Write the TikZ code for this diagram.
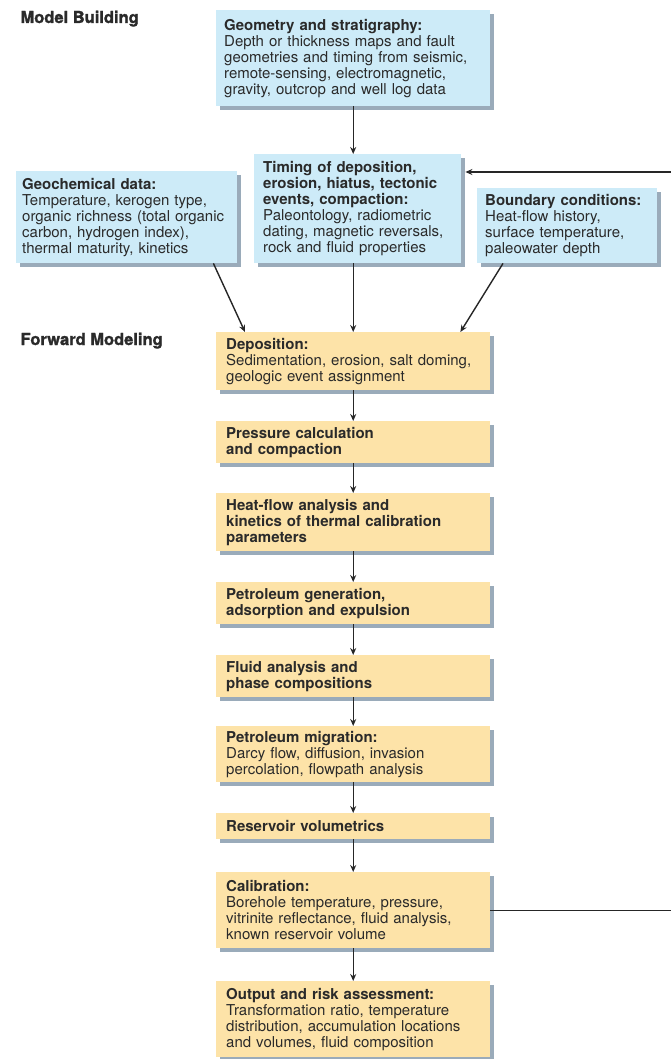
\documentclass[tikz,border=0pt]{standalone}
\usepackage{fontspec}
\setmainfont{TeX Gyre Heros}
\newfontfamily\headfam[BoldFeatures={FakeBold=1.5}]{TeX Gyre Heros}
\usetikzlibrary{arrows.meta,shadows}
\definecolor{skyfill}{HTML}{CDEBF8}
\definecolor{sandfill}{HTML}{FDE3A8}
\definecolor{shadowc}{HTML}{9AABBA}
\definecolor{inkc}{HTML}{2A2A2A}
\newcommand{\bodyfont}{\fontsize{15}{16}\selectfont}
\newcommand{\headfont}{\headfam\fontsize{16.5}{18}\selectfont\bfseries}
\tikzset{
  card/.style={anchor=north west, inner ysep=0pt, align=left, text=inkc, font=\bodyfont,
    drop shadow={shadow xshift=4pt, shadow yshift=-4pt, fill=shadowc, opacity=1}},
  blue card/.style={card, fill=skyfill, text width=#1},
  sand card/.style={card, fill=sandfill, inner xsep=10pt, text width=254pt},
  flow/.style={-{Stealth[length=7pt,width=6pt]}, line width=1.4pt, draw=black!85},
  stage/.style={anchor=base west, font=\headfont, text=inkc},
}
\begin{document}
\begin{tikzpicture}[x=1pt,y=-1pt]
    \useasboundingbox (0,0) rectangle (671,1059);
    \node[stage] (mb) at (17,23) {Model Building};
    \node[stage] (fm) at (17,345) {Forward Modeling};
    % model building
    \node[blue card=258pt, inner xsep=8pt, minimum height=96pt] (geo) at (216,10)
      {\textbf{Geometry and stratigraphy:}\\Depth or thickness maps and fault\\geometries and timing from seismic,\\remote-sensing, electromagnetic,\\gravity, outcrop and well log data};
    \node[blue card=189pt, inner xsep=9pt, minimum height=109pt] (timing) at (254,154)
      {\textbf{Timing of deposition,}\\\textbf{erosion, hiatus, tectonic}\\\textbf{events, compaction:}\\Paleontology, radiometric\\dating, magnetic reversals,\\rock and fluid properties};
    \node[blue card=209pt, inner xsep=6pt, minimum height=92pt] (geochem) at (16,171)
      {\textbf{Geochemical data:}\\Temperature, kerogen type,\\organic richness (total organic\\carbon, hydrogen index),\\thermal maturity, kinetics};
    \node[blue card=164pt, inner xsep=8pt, minimum height=75pt] (bound) at (477,188)
      {\textbf{Boundary conditions:}\\Heat-flow history,\\surface temperature,\\paleowater depth};
    % forward modeling
    \node[sand card, minimum height=58pt] (dep) at (216,332)
      {\textbf{Deposition:}\\Sedimentation, erosion, salt doming,\\geologic event assignment};
    \node[sand card, minimum height=42pt] (press) at (216,421)
      {\textbf{Pressure calculation}\\\textbf{and compaction}};
    \node[sand card, minimum height=58pt] (heat) at (216,493)
      {\textbf{Heat-flow analysis and}\\\textbf{kinetics of thermal calibration}\\\textbf{parameters}};
    \node[sand card, minimum height=42pt] (gen) at (216,582)
      {\textbf{Petroleum generation,}\\\textbf{adsorption and expulsion}};
    \node[sand card, minimum height=42pt] (fluid) at (216,655)
      {\textbf{Fluid analysis and}\\\textbf{phase compositions}};
    \node[sand card, minimum height=56pt] (migr) at (216,726)
      {\textbf{Petroleum migration:}\\Darcy flow, diffusion, invasion\\percolation, flowpath analysis};
    \node[sand card, minimum height=26pt] (res) at (216,813)
      {\textbf{Reservoir volumetrics}};
    \node[sand card, minimum height=76pt] (cal) at (216,872)
      {\textbf{Calibration:}\\Borehole temperature, pressure,\\vitrinite reflectance, fluid analysis,\\known reservoir volume};
    \node[sand card, minimum height=76pt] (out) at (216,981)
      {\textbf{Output and risk assessment:}\\Transformation ratio, temperature\\distribution, accumulation locations\\and volumes, fluid composition};
    % connectors
    \draw[flow] (geo.south) -- (geo.south |- timing.north);
    \draw[flow] (dep.north |- timing.south) -- (dep.north);
    \draw[flow] ([xshift=-24pt]geochem.south east) -- ([xshift=29pt]dep.north west);
    \draw[flow] ([xshift=26pt]bound.south west) -- ([xshift=-30pt]dep.north east);
    \foreach \a/\b in {dep/press, press/heat, heat/gen, gen/fluid, fluid/migr, migr/res, res/cal, cal/out}
      \draw[flow] (\a.south) -- (\b.north);
    \coordinate (loop) at (690,0);
    \draw[flow] (cal.east) -- (cal.east -| loop) |- ([xshift=4pt,yshift=-18pt]timing.north east);
\end{tikzpicture}
\end{document}
